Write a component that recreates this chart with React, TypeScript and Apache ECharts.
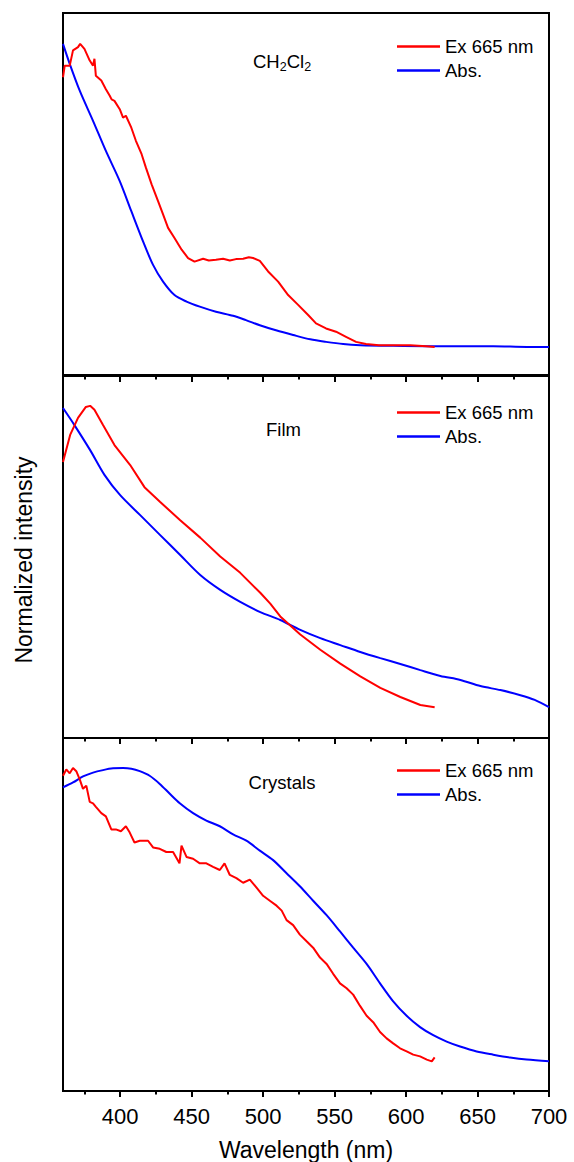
import React, { useEffect, useRef } from "react";
import * as echarts from "echarts";

// Wavelength axis (nm)
const xMin = 360;
const xMax = 700;
const majorTicks = [400, 450, 500, 550, 600, 650, 700];
const minorTicks = [375, 425, 475, 525, 575, 625, 675];

const seriesNames = ["Ex 665 nm", "Abs."];
const panelLabels = ["CH2Cl2", "Film", "Crystals"];

// CH2Cl2 solution
const solutionEx: number[][] = [
  [360, 0.823], [361.2, 0.855], [364.7, 0.855], [367, 0.897], [370.5, 0.906], [372, 0.915],
  [375, 0.901], [378.7, 0.869], [381, 0.855], [382, 0.874], [383, 0.827], [386.8, 0.814],
  [390, 0.79], [392.7, 0.772], [394, 0.762], [396, 0.758], [399.7, 0.735], [402, 0.712],
  [404, 0.717], [407.8, 0.684], [411, 0.648], [415, 0.611], [418, 0.574], [422, 0.528],
  [426.5, 0.482], [430, 0.445], [433.5, 0.408], [438, 0.38], [443, 0.348], [447.5, 0.325],
  [452, 0.315], [458, 0.323], [462, 0.318], [467, 0.32], [472, 0.323], [476.7, 0.318],
  [481, 0.322], [486, 0.323], [490, 0.327], [493, 0.325], [497.7, 0.317], [503.5, 0.288],
  [510.5, 0.26], [517.5, 0.223], [524.5, 0.196], [531.5, 0.168], [537, 0.145], [544, 0.131],
  [551, 0.122], [558, 0.108], [565, 0.094], [572, 0.088], [581, 0.085], [591, 0.085],
  [603, 0.085], [614, 0.082], [620, 0.08],
];
const solutionAbs: number[][] = [
  [360, 0.915], [364.7, 0.86], [371.7, 0.786], [381, 0.703], [390, 0.62], [399.7, 0.537],
  [407.8, 0.454], [416, 0.371], [423, 0.306], [430, 0.26], [438, 0.223], [446.4, 0.205],
  [455.7, 0.191], [467, 0.177], [479, 0.166], [488, 0.154], [497.7, 0.14], [509, 0.126],
  [521, 0.113], [533, 0.101], [544, 0.094], [556, 0.088], [568, 0.085], [591, 0.083],
  [614, 0.082], [638, 0.082], [661, 0.082], [684.6, 0.08], [700, 0.08],
];

// Film
const filmEx: number[][] = [
  [360, 0.76], [365, 0.835], [370.5, 0.882], [376, 0.912], [379, 0.915], [382, 0.904],
  [388, 0.862], [396, 0.807], [407, 0.752], [417, 0.691], [428, 0.65], [442, 0.6],
  [456, 0.552], [470, 0.5], [484, 0.455], [498, 0.4], [505, 0.37], [512, 0.335],
  [519, 0.31], [526, 0.285], [540, 0.243], [554, 0.205], [568, 0.17], [582, 0.138],
  [596, 0.113], [610, 0.091], [620, 0.085],
];
const filmAbs: number[][] = [
  [360, 0.909], [368, 0.862], [379, 0.793], [389, 0.725], [400, 0.669], [414, 0.614],
  [428, 0.559], [442, 0.504], [456, 0.449], [470, 0.408], [484, 0.375], [498, 0.347],
  [512, 0.325], [526, 0.298], [540, 0.275], [554, 0.256], [568, 0.237], [582, 0.22],
  [596, 0.204], [610, 0.187], [624, 0.171], [638, 0.16], [652, 0.143], [666, 0.132],
  [680, 0.118], [690, 0.105], [700, 0.085],
];

// Crystals
const crystalEx: number[][] = [
  [360, 0.893], [362.3, 0.911], [364.7, 0.9], [367, 0.915], [369.3, 0.906], [371.7, 0.883],
  [374, 0.856], [376.3, 0.865], [378.7, 0.819], [381, 0.815], [383, 0.805], [386.8, 0.787],
  [390, 0.778], [393.8, 0.741], [397, 0.741], [400.5, 0.736], [404, 0.75], [406.7, 0.732],
  [410, 0.704], [413.7, 0.709], [419.5, 0.709], [423, 0.69], [427.7, 0.686], [432.3, 0.677],
  [437, 0.677], [441.5, 0.645], [442.9, 0.695], [446.4, 0.663], [451, 0.658], [455.7, 0.645],
  [460.3, 0.645], [465, 0.635], [469.7, 0.626], [473, 0.645], [476.7, 0.612], [481.3, 0.603],
  [486, 0.59], [490.7, 0.599], [495.4, 0.576], [500, 0.553], [504.7, 0.539], [509.4, 0.525],
  [513, 0.511], [516.4, 0.484], [521, 0.47], [525.7, 0.443], [530.4, 0.424], [535, 0.406],
  [539.8, 0.378], [544.4, 0.36], [549, 0.332], [553.8, 0.305], [558.4, 0.291], [563, 0.273],
  [567.8, 0.241], [572.4, 0.213], [577, 0.195], [581.8, 0.167], [586.4, 0.149], [591, 0.135],
  [595.8, 0.121], [600.4, 0.112], [605, 0.103], [609.8, 0.098], [614.5, 0.089], [618, 0.084],
  [620, 0.095],
];
const crystalAbs: number[][] = [
  [360, 0.86], [367, 0.874], [374, 0.891], [381, 0.902], [388, 0.909], [395, 0.914],
  [402, 0.915], [407.8, 0.913], [413.7, 0.906], [420.6, 0.893], [427.7, 0.87], [434.7, 0.842],
  [441.7, 0.815], [451, 0.787], [460.3, 0.766], [469.7, 0.75], [479, 0.727], [488.3, 0.709],
  [497.7, 0.681], [507, 0.654], [516.4, 0.617], [525.7, 0.58], [535, 0.539], [544.4, 0.498],
  [553.8, 0.452], [563, 0.406], [572.4, 0.36], [581.8, 0.305], [591, 0.254], [600.4, 0.213],
  [609.8, 0.181], [619, 0.158], [628.4, 0.14], [637.8, 0.126], [649.4, 0.112], [661, 0.103],
  [672.7, 0.095], [684.4, 0.089], [700, 0.084],
];

const panels = [
  { ex: solutionEx, abs: solutionAbs },
  { ex: filmEx, abs: filmAbs },
  { ex: crystalEx, abs: crystalAbs },
];

const FONT = "'Liberation Sans', Arial, sans-serif";
const RED = "#ff0000";
const BLUE = "#0000ff";

const gridTops = [13, 375, 738];
const gridHeight = 363;
const legendTops = [30, 396, 754];

export default function App() {
  const ref = useRef<HTMLDivElement>(null);

  useEffect(() => {
    if (!ref.current) return;
    const chart = echarts.init(ref.current, null, { renderer: "svg" });

    const grid = gridTops.map((top) => ({
      left: 63,
      width: 486,
      top,
      height: gridHeight,
      show: true,
      borderColor: "#000",
      borderWidth: 2,
      backgroundColor: "transparent",
    }));

    const xAxis: any[] = [];
    panels.forEach((_, i) => {
      const isLast = i === panels.length - 1;
      xAxis.push({
        type: "value",
        gridIndex: i,
        min: xMin,
        max: xMax,
        position: "bottom",
        axisLine: { show: true, lineStyle: { color: "#000", width: 2 } },
        axisTick: {
          show: true,
          inside: false,
          length: 6,
          lineStyle: { color: "#000", width: 2 },
          customValues: majorTicks,
        },
        axisLabel: {
          show: isLast,
          customValues: majorTicks,
          color: "#000",
          fontFamily: FONT,
          fontSize: 22,
          margin: 14,
        },
        splitLine: { show: false },
        name: isLast ? "Wavelength (nm)" : "",
        nameLocation: "middle",
        nameGap: 47,
        nameTextStyle: { color: "#000", fontFamily: FONT, fontSize: 23 },
      });
    });
    panels.forEach((_, i) => {
      xAxis.push({
        type: "value",
        gridIndex: i,
        min: xMin,
        max: xMax,
        position: "bottom",
        axisLine: { show: false },
        axisTick: {
          show: true,
          inside: false,
          length: 3.5,
          lineStyle: { color: "#000", width: 2 },
          customValues: minorTicks,
        },
        axisLabel: { show: false },
        splitLine: { show: false },
      });
    });

    const yAxis = panels.map((_, i) => ({
      type: "value",
      gridIndex: i,
      min: 0,
      max: 1,
      show: false,
      splitLine: { show: false },
    }));

    const series: any[] = [];
    panels.forEach((p, i) => {
      series.push({
        name: seriesNames[0],
        type: "line",
        xAxisIndex: i,
        yAxisIndex: i,
        data: p.ex,
        symbol: "none",
        showSymbol: false,
        lineStyle: { color: RED, width: 2 },
        itemStyle: { color: RED },
        z: 3,
      });
      series.push({
        name: seriesNames[1],
        type: "line",
        xAxisIndex: i,
        yAxisIndex: i,
        data: p.abs,
        symbol: "none",
        showSymbol: false,
        smooth: 0.3,
        lineStyle: { color: BLUE, width: 2 },
        itemStyle: { color: BLUE },
        z: 2,
      });
    });

    const legend = legendTops.map((top) => ({
      orient: "vertical",
      left: 392,
      top,
      icon: "rect",
      itemWidth: 43,
      itemHeight: 2.5,
      itemGap: 1,
      selectedMode: false,
      data: seriesNames,
      textStyle: { color: "#000", fontFamily: FONT, fontSize: 18.5, lineHeight: 23 },
    }));

    const graphic: any[] = [
      {
        type: "text",
        left: 253,
        top: 50,
        style: {
          text: "{n|CH}{s|2}{n|Cl}{s|2}",
          rich: {
            n: { fontFamily: FONT, fontSize: 18.5, fill: "#000", lineHeight: 22 },
            s: { fontFamily: FONT, fontSize: 12.5, fill: "#000", lineHeight: 22, padding: [10, 0, 0, 0] },
          },
        },
      },
      {
        type: "text",
        x: 283.5,
        y: 429,
        style: {
          text: panelLabels[1],
          fontFamily: FONT,
          fontSize: 18.5,
          fill: "#000",
          align: "center",
          verticalAlign: "middle",
        },
      },
      {
        type: "text",
        x: 282,
        y: 782,
        style: {
          text: panelLabels[2],
          fontFamily: FONT,
          fontSize: 18.5,
          fill: "#000",
          align: "center",
          verticalAlign: "middle",
        },
      },
      {
        type: "text",
        x: 24,
        y: 560,
        rotation: Math.PI / 2,
        style: {
          text: "Normalized intensity",
          fontFamily: FONT,
          fontSize: 23,
          fill: "#000",
          align: "center",
          verticalAlign: "middle",
        },
      },
    ];

    chart.setOption({
      animation: false,
      backgroundColor: "#fff",
      grid,
      xAxis,
      yAxis,
      series,
      legend,
      graphic,
    });

    return () => chart.dispose();
  }, []);

  return (
    <div
      ref={ref}
      style={{ position: "fixed", left: 0, top: 0, width: 574, height: 1162, background: "#fff" }}
    />
  );
}
